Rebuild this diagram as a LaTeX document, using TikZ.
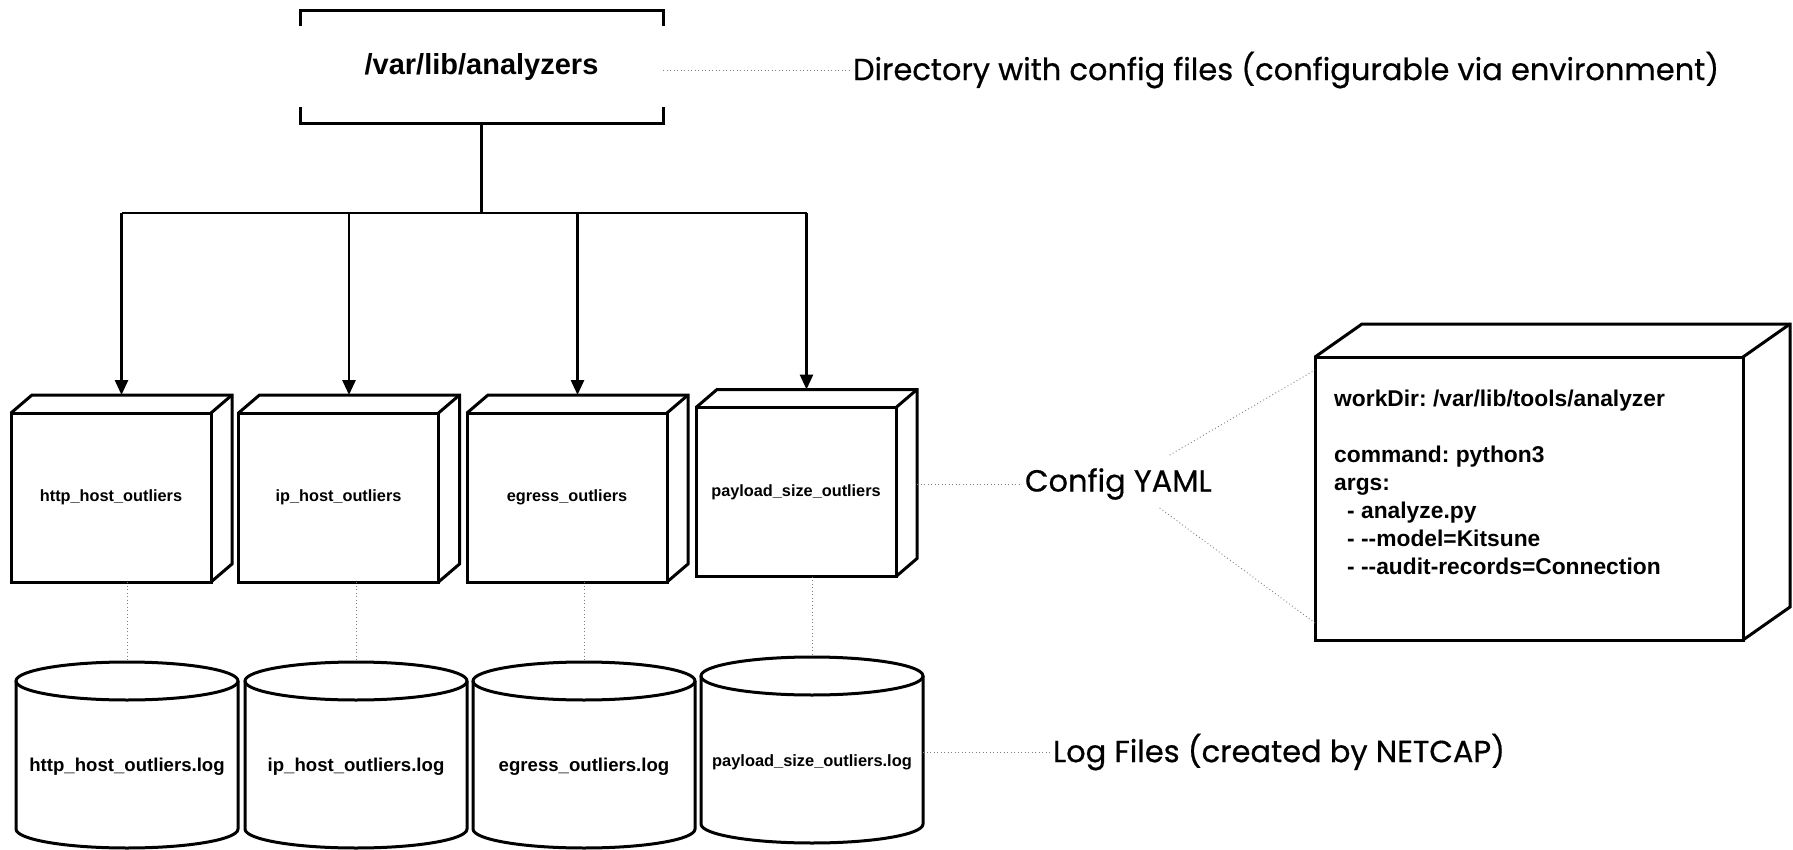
\documentclass[tikz,border=0pt]{standalone}
\usepackage{fontspec}
\setmainfont{Liberation Sans}
\newfontfamily\calloutfont[FakeBold=0.6]{Poppins}
\usetikzlibrary{arrows.meta}

% one analyzer: front face as the node, depth drawn behind it
\newcommand\unitbox[4]{%
  \node[unit] (#1) at (#2,#3) {#4};
  \draw[rim] (#1.north west) -- ++(21,-18) -- ++(200,0) -- ++(0,169) -- (#1.south east);
  \draw[rim] (#1.north east) -- ++(21,-18);
}
% one log file drum: name, centre x, top ellipse y, bottom ellipse y, label y, label size, label
\newcommand\logdrum[7]{%
  \draw[rim] (#2-111,#3) -- (#2-111,#4)
     arc[start angle=180,end angle=360,x radius=111pt,y radius=19pt] -- (#2+111,#3);
  \draw[rim] (#2,#3) ellipse[x radius=111pt,y radius=19pt];
  \node[inner sep=0pt,outer sep=0pt,minimum width=222pt,minimum height={#4-#3+38}]
     (#1) at (#2,{(#3+#4)/2}) {};
  \node[font=\fontsize{#6}{#6}\selectfont\bfseries,inner sep=0pt] (#1-label) at (#2,#5) {#7};
}

\begin{document}
\frenchspacing
\begin{tikzpicture}[x=1pt,y=-1pt,
  rim/.style={line width=3pt,line join=miter},
  feed/.style={line width=2.8pt,-{Triangle[length=15pt,width=13pt]}},
  leader/.style={draw=black!50,line width=0.9pt,dash pattern=on 0.9pt off 2.6pt},
  unit/.style={draw,rim,minimum width=200pt,minimum height=169pt,inner sep=0pt,outer sep=0pt,
    font=\fontsize{16.3}{19}\selectfont\bfseries},
  callout/.style={font=\calloutfont\fontsize{30.5}{36}\selectfont,inner sep=0pt,outer sep=3pt}]

\fill[white] (0,0) rectangle (1793,850);
\useasboundingbox (0,0) rectangle (1793,850);

% configuration directory
\node[minimum width=363pt,minimum height=113pt,inner sep=0pt,outer sep=0pt,
      font=\fontsize{29}{34}\selectfont\bfseries] (dir) at (481.5,67) {\raisebox{-4pt}{/var/lib/analyzers}};
\draw[rim] ([yshift=-16pt]dir.north west) -- (dir.north west) -- (dir.north east) -- ([yshift=-16pt]dir.north east);
\draw[rim] ([yshift=16pt]dir.south west) -- (dir.south west) -- (dir.south east) -- ([yshift=16pt]dir.south east);
\node[callout,anchor=west] (dirnote) at (850,70) {Directory with config files (configurable via environment)};
\draw[leader] (dir.east |- dirnote.west) -- (dirnote.west);

% analyzers
\unitbox{box1}{111}{497.5}{http\_host\_outliers}
\unitbox{box2}{338.5}{497.5}{ip\_host\_outliers}
\unitbox{box3}{567}{497.5}{egress\_outliers}
\unitbox{box4}{796}{492}{payload\_size\_outliers}

\coordinate (t1) at ([shift={(10.5pt,18pt)}]box1.north);
\coordinate (t2) at ([shift={(10.5pt,18pt)}]box2.north);
\coordinate (t3) at ([shift={(10.5pt,18pt)}]box3.north);
\coordinate (t4) at ([shift={(10.5pt,18pt)}]box4.north);
\coordinate (bus) at (481.5,213);

\draw[line width=2.8pt] (dir.south) -- (bus);
\draw[line width=2.8pt] (t1 |- bus) -- (t4 |- bus);
\draw[feed] (t1 |- bus) -- (t1);
\draw[feed] (t2 |- bus) -- (t2);
\draw[feed] (t3 |- bus) -- (t3);
\draw[feed] (t4 |- bus) -- (t4);

% log files
\logdrum{db1}{127}{681}{829}{767}{18.6}{http\_host\_outliers.log}
\logdrum{db2}{356}{681}{829}{767}{18.6}{ip\_host\_outliers.log}
\logdrum{db3}{584}{681}{829}{767}{18.6}{egress\_outliers.log}
\logdrum{db4}{812}{676}{824}{762}{16.4}{payload\_size\_outliers.log}

\draw[leader] (db1.north |- box1.south) -- (db1.north);
\draw[leader] (db2.north |- box2.south) -- (db2.north);
\draw[leader] (db3.north |- box3.south) -- (db3.north);
\draw[leader] (db4.north |- box4.south) -- (db4.north);

\node[callout,anchor=west] (lognote) at (1050,752) {Log Files (created by NETCAP)};
\draw[leader] (db4.east |- lognote.west) -- (lognote.west);

% config file
\node[draw,rim,minimum width=428pt,minimum height=283pt,inner sep=0pt,outer sep=0pt] (cfg) at (1529,498.5) {};
\draw[rim] (cfg.north west) -- ++(47,-33) -- ++(428,0) -- ++(0,283) -- (cfg.south east);
\draw[rim] (cfg.north east) -- ++(47,-33);
\node[anchor=north west,align=left,inner sep=0pt,font=\fontsize{22.8}{28}\selectfont\bfseries] (cfgtext) at (1334,390)
  {workDir: /var/lib/tools/analyzer\\[28pt]
   command: python3\\
   args:\\
   \hspace*{13pt}- analyze.py\\
   \hspace*{13pt}- -\kern0pt-model=Kitsune\\
   \hspace*{13pt}- -\kern0pt-audit-records=Connection};

\node[callout,anchor=west] (yaml) at (1022,484) {Config YAML};
\draw[leader] ([xshift=21pt,yshift=8pt]box4.east) -- (yaml.west);
\coordinate (yamlA) at ([shift={(-45pt,29pt)}]yaml.east);
\coordinate (yamlB) at ([shift={(-55pt,-24pt)}]yaml.east);
\draw[leader] (yamlA) -- ([yshift=-13pt]cfg.north west);
\draw[leader] (yamlB) -- ([yshift=17pt]cfg.south west);
\end{tikzpicture}
\end{document}
